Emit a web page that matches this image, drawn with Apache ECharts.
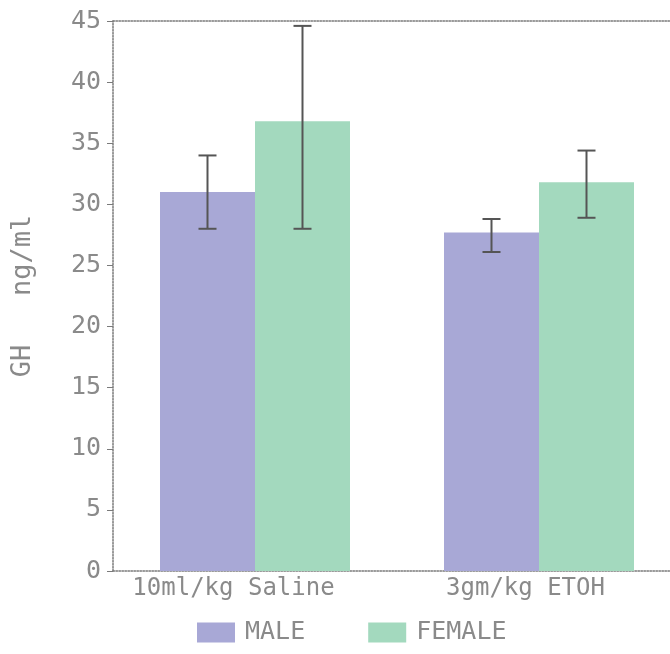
<!DOCTYPE html>
<html><head><meta charset="utf-8">
<script src="https://cdn.jsdelivr.net/npm/echarts@6/dist/echarts.min.js"></script>
<style>html,body{margin:0;padding:0;background:#fff}#c{width:670px;height:654px}</style>
</head><body><div id="c"></div>
<script>
const categories = ['10ml/kg Saline', '3gm/kg ETOH'];
const seriesNames = ['MALE', 'FEMALE'];
const maleMeans = [31.0, 27.7];
const femaleMeans = [36.8, 31.8];
const maleLow = [28.0, 26.1];
const maleHigh = [34.0, 28.8];
const femaleLow = [28.0, 28.9];
const femaleHigh = [44.6, 34.4];
const yMin = 0, yMax = 45, yStep = 5;

const BAR_W = 95;
const FONT = 'DejaVu Sans Mono';
const TXT = '#8a8a8a';
const AX = '#7a7a7a';
const MALE_C = '#a8a8d6';
const FEMALE_C = '#a3d9be';

function errData(low, high) {
  return categories.map((c, i) => [i, low[i], high[i]]);
}
function errSeries(low, high, dir) {
  return {
    type: 'custom',
    silent: true,
    z: 5,
    encode: { x: 0, y: [1, 2] },
    data: errData(low, high),
    renderItem: function (params, api) {
      const c = api.value(0);
      const lo = api.coord([c, api.value(1)]);
      const hi = api.coord([c, api.value(2)]);
      const x = lo[0] + dir * BAR_W / 2;
      const cap = 9;
      const st = { stroke: '#555', lineWidth: 2 };
      return {
        type: 'group',
        children: [
          { type: 'line', shape: { x1: x, y1: lo[1], x2: x, y2: hi[1] }, style: st },
          { type: 'line', shape: { x1: x - cap, y1: lo[1], x2: x + cap, y2: lo[1] }, style: st },
          { type: 'line', shape: { x1: x - cap, y1: hi[1], x2: x + cap, y2: hi[1] }, style: st }
        ]
      };
    }
  };
}

const chart = echarts.init(document.getElementById('c'));
chart.setOption({
  animation: false,
  backgroundColor: '#fff',
  grid: { left: 113, width: 568, top: 21, bottom: 83, containLabel: false, outerBoundsMode: 'none' },
  legend: {
    data: seriesNames,
    left: 197, top: 620, padding: 0,
    itemWidth: 38, itemHeight: 20, itemGap: 63,
    icon: 'rect',
    textStyle: { fontFamily: FONT, fontSize: 25, color: TXT, padding: [0, 0, 0, 5] }
  },
  xAxis: [{
    type: 'category',
    data: categories,
    axisLine: { lineStyle: { color: AX, type: 'dotted', width: 1.5 } },
    axisTick: { show: false },
    axisLabel: {
      interval: 0,
      margin: 6,
      fontFamily: FONT, fontSize: 24, color: TXT,
      formatter: function (v, i) { return i === 0 ? '{a|' + v + '}' : '{b|' + v + '}'; },
      rich: {
        a: { fontFamily: FONT, fontSize: 24, color: TXT, padding: [0, 43, 0, 0] },
        b: { fontFamily: FONT, fontSize: 24, color: TXT, padding: [0, 27, 0, 0] }
      }
    }
  }, {
    type: 'category',
    position: 'top',
    data: categories,
    axisLine: { show: true, lineStyle: { color: AX, type: 'dotted', width: 1.5 } },
    axisTick: { show: false },
    axisLabel: { show: false }
  }],
  yAxis: {
    type: 'value',
    min: yMin, max: yMax, interval: yStep,
    name: 'GH   ng/ml',
    nameLocation: 'middle',
    nameGap: 77,
    nameRotate: 90,
    nameTextStyle: { fontFamily: FONT, fontSize: 27, color: TXT },
    axisLine: { show: true, lineStyle: { color: AX, type: 'dotted', width: 1.5 } },
    axisTick: { show: true, length: 6, lineStyle: { color: AX } },
    splitLine: { show: false },
    axisLabel: { margin: 12, fontFamily: FONT, fontSize: 25, color: TXT }
  },
  series: [
    { name: seriesNames[0], type: 'bar', data: maleMeans, barWidth: BAR_W, barGap: '0%',
      itemStyle: { color: MALE_C } },
    { name: seriesNames[1], type: 'bar', data: femaleMeans, barWidth: BAR_W, barGap: '0%',
      itemStyle: { color: FEMALE_C } },
    errSeries(maleLow, maleHigh, -1),
    errSeries(femaleLow, femaleHigh, 1)
  ]
});
</script>
</body></html>
